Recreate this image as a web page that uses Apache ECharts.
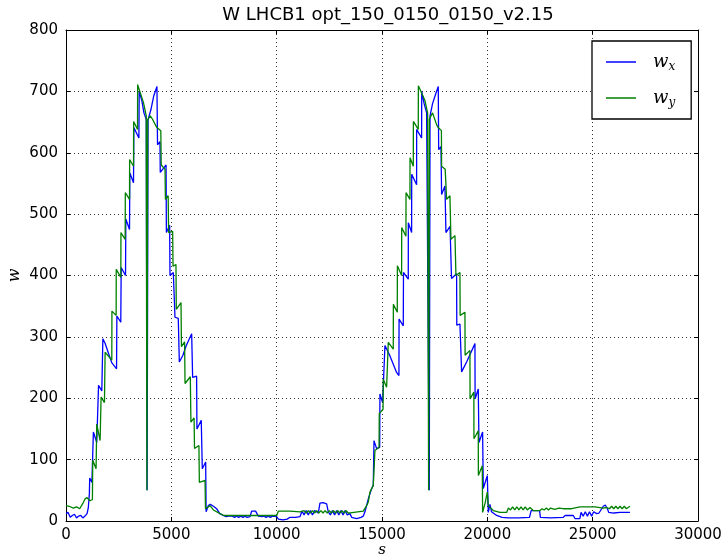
<!DOCTYPE html>
<html><head><meta charset="utf-8">
<script src="https://cdn.jsdelivr.net/npm/echarts@6/dist/echarts.min.js"></script>
<style>html,body{margin:0;padding:0;background:#fff}#c{width:727px;height:558px}</style>
</head><body><div id="c"></div>
<script>
const titleText = 'W LHCB1 opt_150_0150_0150_v2.15';
const xTicks = [0, 5000, 10000, 15000, 20000, 25000, 30000];
const yTicks = [0, 100, 200, 300, 400, 500, 600, 700, 800];

// w_x : positions (s) and values
const sX = [0,100,200,300,400,500,600,700,800,900,1000,1060,1110,1125,1230,1290,1300,1460,1535,1545,1700,1740,1750,1850,2000,2170,2400,2415,2600,2620,2825,2840,3015,3030,3205,3220,3460,3475,3600,3700,3810,3850,3895,4030,4160,4220,4317,4345,4460,4475,4750,4765,4920,4936,5094,5173,5330,5379,5550,5700,5965,6011,6200,6215,6420,6470,6630,6650,6755,6850,6913,7000,7150,7300,7467,7600,7700,7783,7900,8000,8100,8200,8300,8400,8500,8600,8733,8813,9000,9050,9130,9300,9400,9500,9600,9700,9800,10000,10080,10300,10500,10631,10900,11106,11200,11300,11400,11500,11600,11700,11800,11976,12055,12200,12372,12451,12550,12650,12750,12850,12950,13050,13150,13250,13350,13480,13559,13800,14000,14112,14191,14350,14500,14586,14620,14744,14890,14902,15029,15140,15377,15693,15804,15810,16010,16020,16247,16250,16406,16410,16643,16645,16880,16885,17000,17118,17244,17280,17400,17560,17671,17690,17800,17829,17988,18035,18230,18300,18541,18550,18700,18779,19017,19412,19420,19570,19602,19776,19808,19998,20045,20124,20200,20441,20700,21000,21500,22000,22080,22480,22520,23000,23600,23700,24080,24160,24390,24450,24550,24650,24750,24850,24950,25050,25187,25300,25504,25600,25700,25760,26000,26300,26769];
const wx = [12,14,6,9,11,5,8,9,5,8,12,22,45,70,63,64,145,128,130,221,212,214,297,290,275,258,248,334,324,413,400,492,475,567,551,641,624,700,685,665,654,50,654,670,692,695,708,613,618,568,580,470,482,400,405,332,330,259,270,285,305,234,236,150,164,85,96,15,25,27,28,24,20,12,9,7,8,6,8,6,8,6,8,6,8,6,7,16,16,14,8,7,8,6,8,6,8,7,3,2,3,6,6,7,16,10,17,10,17,10,17,13,29,30,28,15,10,17,10,17,10,17,10,17,10,12,6,4,6,8,15,36,52,58,131,118,120,207,193,286,269,242,237,329,318,405,394,486,470,565,548,638,624,700,680,665,50,660,680,697,708,605,610,532,546,470,480,395,403,319,321,243,259,289,199,215,128,145,53,74,14,27,15,9,6,5,5,6,17,17,6,5,6,9,9,4,4,14,8,15,8,15,8,15,12,13,24,26,20,14,13,14,14];

// w_y : positions (s) and values
const sY = [0,150,348,500,650,744,820,902,1000,1060,1139,1254,1270,1428,1455,1460,1619,1666,1825,1857,2174,2180,2380,2385,2603,2608,2809,2815,3015,3020,3206,3210,3396,3400,3682,3809,3840,3880,4000,4100,4250,4317,4500,4520,4700,4720,4850,4870,5063,5080,5220,5235,5460,5480,5630,5650,5900,5930,6080,6100,6310,6330,6600,6620,6834,7000,7309,7500,8000,8500,9000,9500,10000,10080,10631,11106,11200,11300,11400,11500,11600,11700,11800,11900,12000,12100,12200,12300,12400,12500,12600,12700,12800,12900,13000,13100,13200,13300,13400,13480,14112,14270,14350,14428,14586,14665,14860,14870,15050,15060,15219,15298,15535,15540,15725,15730,15931,15935,16137,16140,16327,16330,16485,16490,16722,16726,17039,17165,17213,17250,17400,17600,17671,17820,17829,18000,18067,18225,18272,18463,18510,18700,18710,18937,18945,19175,19180,19360,19365,19570,19575,19760,19776,19900,19998,20045,20283,20600,20916,21000,21100,21200,21300,21400,21500,21600,21700,21800,21900,22023,22181,22498,22600,22700,22800,22900,23000,23200,23400,23605,24000,24396,25108,25504,25650,25800,25900,26000,26100,26200,26300,26400,26500,26600,26769];
const wy = [25,24,21,23,20,19,30,36,38,40,33,35,99,85,88,158,131,202,193,275,262,342,335,410,397,470,459,535,524,589,578,651,638,711,681,660,50,654,660,655,645,641,636,580,573,524,530,470,472,415,418,345,356,284,292,224,235,161,168,118,123,63,66,20,25,18,12,9,9,9,9,9,9,16,16,15,13,17,13,17,13,17,13,17,13,17,13,17,13,17,13,17,13,17,13,17,13,17,13,16,16,25,31,47,58,115,120,175,182,231,218,291,280,353,340,416,400,478,464,535,524,592,578,651,638,709,685,665,50,655,665,645,641,636,578,573,524,530,459,465,400,405,335,340,270,278,199,210,134,147,74,90,14,30,47,25,17,14,14,21,18,23,18,23,18,23,18,23,18,22,17,17,20,18,21,18,21,19,21,20,20,23,23,21,22,20,24,20,24,20,24,20,24,20,24,22];

const chart = echarts.init(document.getElementById('c'), null, {renderer: 'canvas'});
const blk = '#000';
const tickFont = {fontFamily: 'DejaVu Sans', fontSize: 15, color: '#000', formatter: v => String(v)};
chart.setOption({
  animation: false,
  backgroundColor: '#fff',
  title: {text: titleText, left: 383, top: 1, textAlign: 'center',
    textStyle: {fontFamily: 'DejaVu Sans', fontSize: 18, fontWeight: 'normal', color: '#000'}},
  grid: {left: 66, right: 29, top: 30, bottom: 37, containLabel: false, outerBoundsMode: 'none'},
  legend: {
    orient: 'vertical', left: 592, top: 41, padding: [12, 16, 10, 14], itemGap: 16,
    itemWidth: 30, itemHeight: 1.5, icon: 'rect',
    borderColor: '#000', borderWidth: 1.3, backgroundColor: '#fff', borderRadius: 0,
    data: ['wx', 'wy'],
    formatter: n => '{a|w}{b|' + n.slice(1) + '}',
    textStyle: {padding: [0, 0, 0, 12], rich: {
      a: {fontFamily: 'DejaVu Serif', fontStyle: 'italic', fontSize: 18, color: '#000'},
      b: {fontFamily: 'DejaVu Serif', fontStyle: 'italic', fontSize: 12, color: '#000', padding: [10, 0, 0, 0]}
    }}
  },
  xAxis: [{
    type: 'value', min: xTicks[0], max: xTicks[xTicks.length - 1], interval: 5000,
    name: 's', nameLocation: 'middle', nameGap: 22, nameMoveOverlap: false,
    nameTextStyle: {fontFamily: 'DejaVu Serif', fontStyle: 'italic', fontSize: 15, color: '#000'},
    axisLine: {show: true, onZero: false, lineStyle: {color: blk, width: 1}},
    axisTick: {show: true, inside: true, length: 4, lineStyle: {color: blk}},
    axisLabel: Object.assign({margin: 7}, tickFont),
    splitLine: {show: true, lineStyle: {color: '#000', width: 0.8, type: [1, 3]}}
  }, {
    type: 'value', position: 'top', min: xTicks[0], max: xTicks[xTicks.length - 1], interval: 5000,
    axisLine: {show: true, onZero: false, lineStyle: {color: blk, width: 1}},
    axisTick: {show: true, inside: true, length: 4, lineStyle: {color: blk}},
    axisLabel: {show: false}, splitLine: {show: false}
  }],
  yAxis: [{
    type: 'value', min: yTicks[0], max: yTicks[yTicks.length - 1], interval: 100,
    name: 'w', nameLocation: 'middle', nameGap: 43, nameMoveOverlap: false,
    nameTextStyle: {fontFamily: 'DejaVu Serif', fontStyle: 'italic', fontSize: 16, color: '#000'},
    axisLine: {show: true, onZero: false, lineStyle: {color: blk, width: 1}},
    axisTick: {show: true, inside: true, length: 4, lineStyle: {color: blk}},
    axisLabel: Object.assign({margin: 8}, tickFont),
    splitLine: {show: true, lineStyle: {color: '#000', width: 0.8, type: [1, 3]}}
  }, {
    type: 'value', position: 'right', min: yTicks[0], max: yTicks[yTicks.length - 1], interval: 100,
    axisLine: {show: true, onZero: false, lineStyle: {color: blk, width: 1}},
    axisTick: {show: true, inside: true, length: 4, lineStyle: {color: blk}},
    axisLabel: {show: false}, splitLine: {show: false}
  }],
  series: [
    {name: 'wx', type: 'line', showSymbol: false, symbol: 'none',
      data: sX.map((s, i) => [s, wx[i]]),
      lineStyle: {color: '#0000ff', width: 1.3}, itemStyle: {color: '#0000ff'}},
    {name: 'wy', type: 'line', showSymbol: false, symbol: 'none',
      data: sY.map((s, i) => [s, wy[i]]),
      lineStyle: {color: '#008000', width: 1.3}, itemStyle: {color: '#008000'}}
  ]
});
</script></body></html>
